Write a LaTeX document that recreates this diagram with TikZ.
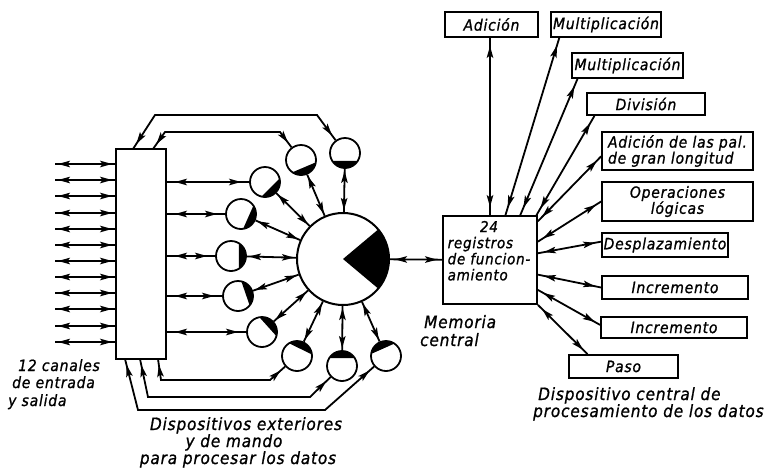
\documentclass[tikz,border=0pt]{standalone}
\usepackage{fontspec}
\newfontfamily\lab{DejaVu Sans Condensed Oblique}[LetterSpace=5, FakeBold=1]
\usetikzlibrary{arrows.meta,decorations.markings,calc}
\begin{document}
\begin{tikzpicture}[x=1pt,y=-1pt,
  hd/.tip={Stealth[length=12pt,width=6.5pt,inset=2.5pt]},
  frame/.style={draw, line width=1.8pt, inner sep=0pt},
  opbox/.style={frame, inner sep=1pt, font=\lab\fontsize{15.5}{16}\selectfont},
  dev/.style={circle, draw, line width=1.8pt, minimum size=30pt, inner sep=0pt},
  hub/.style={circle, draw, line width=2pt, minimum size=92pt, inner sep=0pt},
  caption/.style={font=\lab\fontsize{17}{18}\selectfont, inner sep=0pt},
  small/.style={font=\lab\fontsize{15.5}{16}\selectfont, inner sep=0pt},
  link/.style={line width=1.8pt},
  dbl/.style={link, postaction={decorate}, decoration={markings,
      mark=at position #1 with {\arrowreversed{hd}},
      mark=at position -#1 with {\arrow{hd}}}},
  dbl/.default=4pt]
\useasboundingbox (0,0) rectangle (768,469);
\fill[white] (0,0) rectangle (768,469);

% input/output block and central store
\node[frame, minimum width=50pt, minimum height=210pt] (inbox) at (141,254) {};
\node[hub] (hub) at (343,259) {};
\fill (hub.center) -- ++(-40:46pt) arc[start angle=-40, end angle=40, radius=46pt] -- cycle;

% working registers
\node[frame, minimum width=94pt, minimum height=88pt] (reg) at (490,260) {};
\node[font=\lab\fontsize{15}{15.6}\selectfont, inner sep=0pt] (regtxt) at (489,253)
  {\begin{tabular}{@{}l@{}}\multicolumn{1}{@{}c@{}}{24}\\registros\\de funcion-\\amiento\end{tabular}};

% peripheral devices around the store
\foreach \n/\x/\y/\d in {1/345/153/-90, 2/301/160/-67, 3/265/182/-45, 4/241/214/-24,
    5/231/256/0, 6/238/296/19, 7/262/332/42, 8/297/356/64, 9/342/366/90, 10/386/356/114} {
  \node[dev] (s\n) at (\x,\y) {};
  \fill (s\n.center) ++(\d-58:15pt) arc[start angle=\d-58, end angle=\d+58, radius=15pt] -- cycle;
  \draw[dbl=2pt] (s\n) -- (hub);
}

% twelve input/output channels
\foreach \y [count=\i] in {164,180,196,213,229,245,261,277,293,309,326,342} {
  \coordinate (ch\i) at (55,\y);
  \draw[dbl=3pt] (ch\i) -- (ch\i -| inbox.west);
}

% direct links from devices to the channel block
\foreach \n in {3,4,5,6,7}
  \draw[dbl=8pt] (inbox.east |- s\n) -- (s\n);

% links around the top
\coordinate (ta0) at (133,149); \coordinate (ta1) at (155,115); \coordinate (ta2) at (317,115);
\coordinate (tb0) at (153,149); \coordinate (tb1) at (165,132); \coordinate (tb2) at (280,132);
\draw[dbl=6pt] (ta0) -- (ta1) -- (ta2) -- (s1);
\draw[dbl=6pt] (tb0) -- (tb1) -- (tb2) -- (s2);

% links around the bottom
\coordinate (ba0) at (158,359); \coordinate (ba1) at (161,380); \coordinate (ba2) at (270,380);
\coordinate (bb0) at (140,359); \coordinate (bb1) at (148,397); \coordinate (bb2) at (310,397);
\coordinate (bc0) at (125,359); \coordinate (bc1) at (138,410); \coordinate (bc2) at (325,410);
\draw[dbl=6pt] (ba0) -- (ba1) -- (ba2) -- (s8);
\draw[dbl=6pt] (bb0) -- (bb1) -- (bb2) -- (s9);
\draw[dbl=6pt] (bc0) -- (bc1) -- (bc2) -- (s10);

% store to registers
\draw[dbl=5pt] (hub) -- (reg);

% operation units
\node[opbox, minimum width=93pt, minimum height=25pt] (add) at (491.5,24.5) {Adición};
\node[opbox, minimum width=110pt, minimum height=25pt] (mul1) at (606,24.5) {Multiplicación};
\node[opbox, minimum width=111pt, minimum height=25pt] (mul2) at (627.5,65.5) {Multiplicación};
\node[opbox, minimum width=118pt, minimum height=22pt] (div) at (646,104) {División};
\node[opbox, minimum width=151pt, minimum height=38pt, align=left] (long) at (677.5,151)
  {Adición de las pal.\\de gran longitud};
\node[opbox, minimum width=151pt, minimum height=39pt, align=center] (logic) at (677.5,201.5)
  {Operaciones\\lógicas};
\node[opbox, minimum width=126pt, minimum height=24pt] (shift) at (665,245) {Desplazamiento};
\node[opbox, minimum width=146pt, minimum height=23pt] (inc1) at (675,287.5) {Incremento};
\node[opbox, minimum width=146pt, minimum height=21pt] (inc2) at (674,327.5) {Incremento};
\node[opbox, minimum width=109pt, minimum height=23pt] (step1) at (623.5,366.5) {Paso};

% registers to operation units
\draw[dbl=8pt] (reg.north) -- (reg.north |- add.south);
\draw[dbl=8pt] (reg.71) -- (mul1.196);
\draw[dbl=8pt] (reg.56) -- (mul2.195);
\draw[dbl=8pt] (reg.44.4) -- (div.193);
\draw[dbl=6pt] (reg.39) -- (long.184.5);
\draw[dbl=6pt] (reg.21) -- (logic.west);
\draw[dbl=6pt] (reg.8.5) -- (shift.177);
\draw[dbl=6pt] (reg.-17.7) -- (inc1.west);
\draw[dbl=6pt] (reg.-32.5) -- (inc2.178);
\draw[dbl=6pt] (reg.south east) -- (step1.161);

% captions
\node[small, anchor=base west] (capA1) at (18,371) {12 canales};
\node[small, anchor=base west] (capA2) at (12,388) {de entrada};
\node[small, anchor=base west] (capA3) at (8,406) {y salida};
\node[caption, anchor=base] (capB1) at (246,430) {Dispositivos exteriores};
\node[caption, anchor=base] (capB2) at (234,447) {y de mando};
\node[caption, anchor=base] (capB3) at (238,464) {para procesar los datos};
\node[caption, anchor=base west] (capC1) at (424,328) {Memoria};
\node[caption, anchor=base west] (capC2) at (420,346) {central};
\node[caption, anchor=base west] (capD1) at (538,400) {Dispositivo central de};
\node[caption, anchor=base west] (capD2) at (533,417) {procesamiento de los datos};
\end{tikzpicture}
\end{document}
